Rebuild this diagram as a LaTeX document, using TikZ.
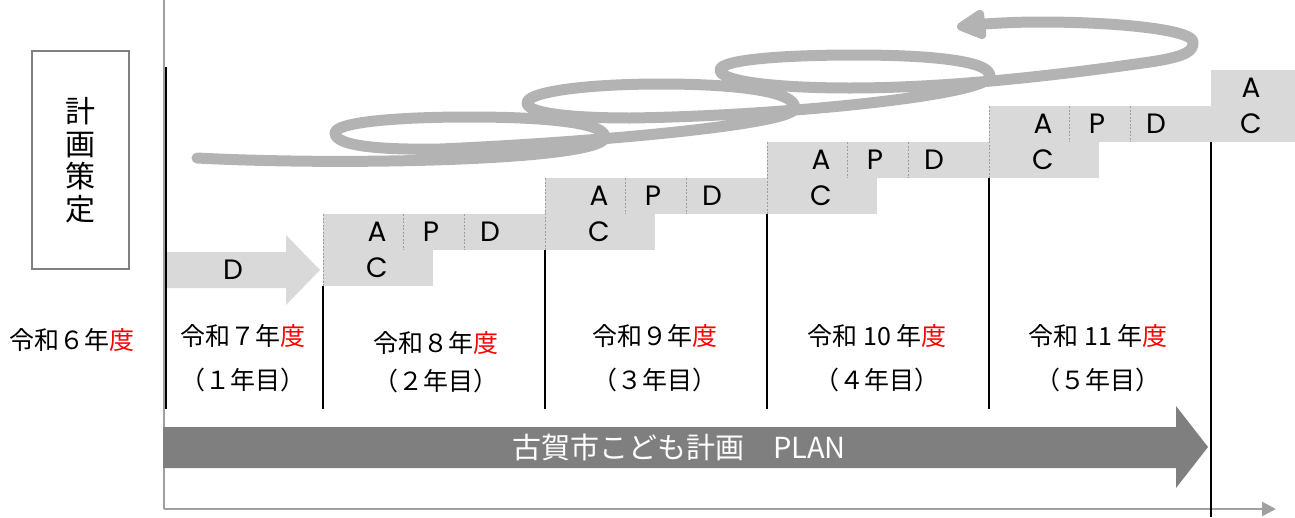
\documentclass[tikz,border=0pt]{standalone}
\usepackage{fontspec}
\setmainfont{Noto Sans CJK JP}
\newfontfamily\geofont{Poppins}
\usetikzlibrary{arrows.meta}
\definecolor{cellgray}{HTML}{D9D9D9}
\definecolor{spiralgray}{HTML}{B3B3B3}
\definecolor{plangray}{HTML}{7F7F7F}
\definecolor{axisgray}{HTML}{A0A0A0}
\tikzset{
  cellsep/.style={draw=gray!75, dash pattern=on 2pt off 1.5pt, line width=0.9pt},
  pdca/.style={font=\geofont\fontsize{28}{28}\selectfont, inner sep=0pt},
  yearlabel/.style={font=\fontsize{25}{25}\selectfont, inner sep=0pt},
  yearline/.style={line width=2pt},
  spiral/.style={draw=spiralgray, line width=11pt, line cap=round, line join=round,
    -{Triangle[length=34pt,width=32pt,round]}},
}
\begin{document}
\begin{tikzpicture}[x=1pt,y=-1pt]
  \useasboundingbox (0,0) rectangle (1295,517);
  \def\nblocks{3} % blocks 0..3 go up in steps, the last one is cut off
  \def\cellw{222}

  % the frame
  \coordinate (axtop) at (164,0);
  \coordinate (axorigin) at (164,509);
  \coordinate (axend) at (1276,509);
  \draw[axisgray, line width=2.5pt] (axtop) -- (axorigin);
  \draw[axisgray, line width=2.5pt, -{Triangle[length=14pt,width=14pt]}] (axorigin) -- (axend);

  % planning box
  \node[draw=gray, line width=1.5pt, minimum width=97pt, minimum height=218pt, inner sep=0pt,
    align=center, font=\fontsize{30}{32.5}\selectfont] (plan) at (80.5,160) {計\\画\\策\\定};

  % D arrow
  \fill[cellgray] (166,252) -- (286,252) -- (286,235) -- (320,270) -- (286,305) -- (286,288) -- (166,288) -- cycle;
  \node[pdca] (d0) at (233,270) {D};

  % A P D / C blocks
  \foreach \k in {0,...,\nblocks} {
    \pgfmathsetmacro\bx{323+\cellw*\k}
    \pgfmathsetmacro\by{214-36*\k}
    \fill[cellgray] (\bx,\by) rectangle ++(\cellw,36);
    \fill[cellgray] (\bx,\by+36) rectangle ++(110,36);
    \draw[cellsep] (\bx,\by) -- ++(0,72);
    \foreach \dx in {80,141,222} \draw[cellsep] (\bx+\dx,\by) -- ++(0,36);
    \node[pdca] (a\k) at (\bx+54,\by+18) {A};
    \node[pdca] (p\k) at (\bx+108,\by+18) {P};
    \node[pdca] (d\k) at (\bx+167,\by+18) {D};
    \node[pdca] (c\k) at (\bx+54,\by+54) {C};
  }
  \fill[cellgray] (1211,70) rectangle (1295,142);
  \node[pdca] (alast) at (1251,88) {A};
  \node[pdca] (clast) at (1251,124) {C};

  % year lines
  \draw[yearline] (166,67) -- (166,409);
  \foreach \x/\top in {323/286,545/250,767/214,989/178} \draw[yearline] (\x,\top) -- (\x,409);
  \draw[yearline] (1211,142) -- (1211,517);

  % year labels
  \node[yearlabel] (y6) at (72,340) {令和６年\textcolor{red}{度}};
  \foreach \nm/\cx/\cy/\cyb/\era/\nth in {y7/243/336/380/７/１, y8/436/343/381/８/２,
      y9/655/336/380/９/３, y10/877/336/380/\ 10\ /４, y11/1098/336/380/\ 11\ /５} {
    \node[yearlabel] (\nm) at (\cx,\cy) {令和\era 年\textcolor{red}{度}};
    \node[yearlabel] (\nm n) at (\cx,\cyb) {（\nth 年目）};
  }

  % plan arrow
  \fill[plangray] (163,427) -- (1176,427) -- (1176,406) -- (1208,447) -- (1176,488) -- (1176,468) -- (163,468) -- cycle;
  \node[text=white, font=\fontsize{29}{29}\selectfont, inner sep=0pt] (planname) at (679,447) {古賀市こども計画　PLAN};

  % spiral
  \draw[spiral] (197,158) .. controls (350,166) and (605,160) .. (605,137)
    .. controls (605,122) and (540,117) .. (470,117)
    .. controls (390,117) and (335,123) .. (335,133)
    .. controls (335,146) and (380,150) .. (440,149)
    .. controls (580,143) and (795,125) .. (795,108)
    .. controls (795,91) and (735,84) .. (661,84)
    .. controls (585,84) and (527,92) .. (527,103)
    .. controls (527,113) and (570,118) .. (630,118)
    .. controls (780,116) and (990,95) .. (990,76)
    .. controls (990,60) and (925,55) .. (855,55)
    .. controls (780,55) and (720,60) .. (720,70)
    .. controls (720,82) and (780,88) .. (850,88)
    .. controls (960,88) and (1080,72) .. (1150,62)
    .. controls (1190,56) and (1193,50) .. (1193,42)
    .. controls (1193,30) and (1120,22) .. (1040,22)
    .. controls (1010,22) and (985,24) .. (957,27);
\end{tikzpicture}
\end{document}
